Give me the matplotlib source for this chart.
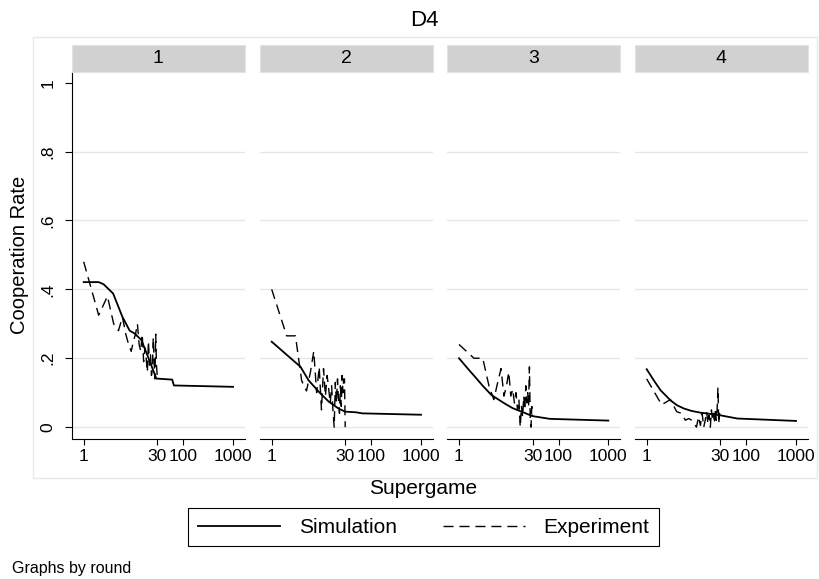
import matplotlib
matplotlib.use("Agg")
import matplotlib.pyplot as plt
from matplotlib.patches import Rectangle
from matplotlib.lines import Line2D

plt.rcParams['font.family'] = ['Liberation Sans', 'DejaVu Sans']
plt.rcParams['lines.scale_dashes'] = False

# ---- data ----
rounds = ["1", "2", "3", "4"]
supergames = list(range(1, 31))

# experiment: cooperation rate per supergame (1..30)
exp_r1 = [.48, .325, .38, .30, .28, .32, .27, .24, .22, .25, .27, .30, .24, .22, .27,
          .19, .23, .20, .16, .25, .18, .21, .15, .17, .26, .19, .14, .27, .18, .15]
exp_r2 = [.40, .265, .265, .135, .105, .16, .22, .10, .175, .05, .17, .09, .15, .11, .07,
          .12, .05, 0, .13, .07, .14, .08, .04, .12, .06, .15, .10, .14, .14, 0]
exp_r3 = [.24, .20, .20, .12, .08, .13, .17, .09, .12, .16, .09, .11, .07, .10, .05,
          .08, 0, .06, .03, .09, .05, .12, .07, .10, .06, .175, .03, 0, .06, .03]
exp_r4 = [.14, .065, .08, .045, .04, .02, .025, .02, .01, 0, .03, .005, .04, 0, .02,
          .045, .01, .035, 0, .05, .02, .04, .01, .055, .02, .05, .115, .01, .04, .03]

# simulation (supergame, rate)
sim_x_r1 = [1, 2, 2.5, 3.9, 6, 8.4, 10.5, 14.4, 19.6, 28.8, 60, 65, 1000]
sim_y_r1 = [.421, .421, .415, .388, .32, .28, .272, .253, .204, .141, .138, .121, .117]
sim_x_r2 = [1, 3.8, 5.5, 8.8, 14, 22, 30, 50, 66, 1000]
sim_y_r2 = [.248, .175, .136, .103, .074, .054, .045, .043, .040, .036]
sim_x_r3 = [1, 1.5, 2.1, 3, 4.5, 8.4, 12, 18, 30, 67, 1000]
sim_y_r3 = [.20, .17, .146, .12, .093, .068, .055, .045, .032, .024, .019]
sim_x_r4 = [1, 1.4, 1.9, 3, 4, 5.6, 8, 12, 20, 31, 66, 1000]
sim_y_r4 = [.168, .135, .107, .078, .064, .054, .047, .042, .038, .034, .025, .018]

exp_all = [exp_r1, exp_r2, exp_r3, exp_r4]
sim_all = [(sim_x_r1, sim_y_r1), (sim_x_r2, sim_y_r2), (sim_x_r3, sim_y_r3), (sim_x_r4, sim_y_r4)]

yticks = [0, .2, .4, .6, .8, 1]
ytick_labels = ["0", ".2", ".4", ".6", ".8", "1"]
xticks = [1, 30, 100, 1000]
xtick_labels = ["1", "30", "100", "1000"]

# ---- layout (pixels) ----
W, H = 819, 579
fig = plt.figure(figsize=(W / 100, H / 100), dpi=100)

def fx(p):
    return p / W

def fy(p):
    return 1 - p / H

# light outer frame of the plot region
fig.patches.append(Rectangle((fx(33), fy(478)), fx(817) - fx(33), fy(37) - fy(478),
                             transform=fig.transFigure, fill=False,
                             edgecolor='#e9e9e9', linewidth=1.0))

lefts = [72, 260, 447.3, 635]
pw = 172.7
top, bottom = 72, 438.5
dash = (0, (7.2, 4.3))

for i, left in enumerate(lefts):
    ax = fig.add_axes([fx(left), fy(bottom), pw / W, (bottom - top) / H])
    ax.set_xscale('log')
    ax.set_xlim(10 ** -0.235, 10 ** 3.235)
    ax.set_ylim(-0.033, 1.031)

    for g in yticks[:-1]:
        ax.axhline(g, color='#e6e6e6', linewidth=1.0, zorder=0)

    sx, sy = sim_all[i]
    ax.plot(sx, sy, color='black', linewidth=1.3, zorder=3)
    ax.plot(supergames, exp_all[i], color='black', linewidth=1.0, linestyle=dash, zorder=2)

    for s in ['top', 'right']:
        ax.spines[s].set_visible(False)
    ax.spines['bottom'].set_linewidth(0.8)
    ax.spines['left'].set_linewidth(0.8)

    ax.set_xticks(xticks)
    ax.set_xticklabels(xtick_labels)
    ax.xaxis.set_minor_locator(matplotlib.ticker.NullLocator())
    ax.tick_params(axis='x', labelsize=12.5, length=4.5, width=0.8, pad=3)

    if i == 0:
        ax.set_yticks(yticks)
        ax.set_yticklabels(ytick_labels, rotation=90, va='center')
        ax.tick_params(axis='y', labelsize=12.5, length=4.7, width=0.8, pad=7)
    else:
        ax.spines['left'].set_visible(False)
        ax.set_yticks([])

    # strip on top
    fig.patches.append(Rectangle((fx(left), fy(71.5)), pw / W, fy(45) - fy(71.5),
                                 transform=fig.transFigure, facecolor='#d1d1d1',
                                 edgecolor='#dde5ea', linewidth=0.8))
    fig.text(fx(left + pw / 2), fy(58.5), rounds[i], ha='center', va='center', fontsize=14)

fig.text(fx(424), fy(20), "D4", ha='center', va='center', fontsize=16)
fig.text(fx(20), fy(255), "Cooperation Rate", ha='center', va='center', rotation=90, fontsize=14.5)
fig.text(fx(423), fy(489), "Supergame", ha='center', va='center', fontsize=15)
fig.text(fx(12), fy(568), "Graphs by round", ha='left', va='center', fontsize=11.5)

handles = [Line2D([], [], color='black', linewidth=1.3),
           Line2D([], [], color='black', linewidth=1.0, linestyle=dash)]
leg = fig.legend(handles, ["Simulation", "Experiment"], loc='center',
                 bbox_to_anchor=(fx(423.7), fy(527.3)), ncol=2, fontsize=15,
                 frameon=True, fancybox=False, edgecolor='black', framealpha=1,
                 handlelength=3.95, handletextpad=0.9, columnspacing=2.2,
                 borderpad=0.45, borderaxespad=0)
leg.get_frame().set_linewidth(0.8)

fig.savefig("out.png", dpi=100)
